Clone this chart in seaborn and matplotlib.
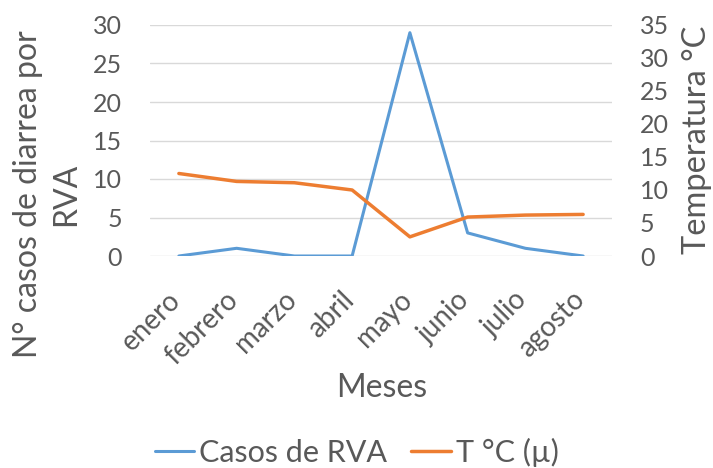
import matplotlib
matplotlib.use("Agg")
import matplotlib.pyplot as plt
import matplotlib.transforms as mtransforms
import seaborn as sns
import pandas as pd
from matplotlib.lines import Line2D

meses = ["enero", "febrero", "marzo", "abril", "mayo", "junio", "julio", "agosto"]
casos_rva = [0, 1, 0, 0, 29, 3, 1, 0]
temperatura = [12.5, 11.3, 11.1, 10.0, 2.9, 5.9, 6.2, 6.3]
left_ticks = [0, 5, 10, 15, 20, 25, 30]
right_ticks = [0, 5, 10, 15, 20, 25, 30, 35]

BLUE = "#5B9BD5"
ORANGE = "#ED7D31"
GREY = "#595959"
GRID = "#D9D9D9"

sns.set_theme(style="white")
plt.rcParams["font.family"] = ["Lato", "DejaVu Sans"]

df = pd.DataFrame({"mes": meses, "casos": casos_rva, "temp": temperatura})

fig = plt.figure(figsize=(7.13, 4.68), dpi=100)
ax = fig.add_axes([150 / 713, 1 - 256 / 468, (612 - 150) / 713, (256 - 25) / 468])
ax2 = ax.twinx()

sns.lineplot(data=df, x="mes", y="casos", ax=ax, color=BLUE, linewidth=2.2, sort=False)
sns.lineplot(data=df, x="mes", y="temp", ax=ax2, color=ORANGE, linewidth=2.5, sort=False)

ax.set_xlim(-0.5, len(meses) - 0.5)
ax.set_ylim(0, 30)
ax2.set_ylim(0, 35)
ax.set_yticks(left_ticks)
ax2.set_yticks(right_ticks)
ax.yaxis.grid(True, color=GRID, linewidth=1)
ax.set_axisbelow(True)
ax2.grid(False)

for a in (ax, ax2):
    for s in a.spines.values():
        s.set_visible(False)

ax.tick_params(axis="y", length=0, pad=20, labelsize=18, labelcolor=GREY)
ax2.tick_params(axis="y", length=0, pad=20, labelsize=18, labelcolor=GREY)
ax.tick_params(axis="x", length=0, pad=22, labelsize=20, labelcolor=GREY)
ax.set_xticks(range(len(meses)))
ax.set_xticklabels(meses, rotation=45, ha="right")
offset = mtransforms.ScaledTranslation(7 / 100, 0, fig.dpi_scale_trans)
for lbl in ax.get_xticklabels():
    lbl.set_transform(lbl.get_transform() + offset)

ax.set_xlabel("")
ax.set_ylabel("")
ax2.set_ylabel("")

fig.text(47 / 713, 1 - 194 / 468, "N° casos de diarrea por\nRVA", rotation=90,
         ha="center", va="center", fontsize=23, color=GREY, linespacing=1.35,
         multialignment="center")
fig.text(697 / 713, 1 - 140 / 468, "Temperatura °C", rotation=90,
         ha="center", va="center", fontsize=23.5, color=GREY)
fig.text(382 / 713, 1 - 388 / 468, "Meses", ha="center", va="center",
         fontsize=23, color=GREY)

handles = [Line2D([0], [0], color=BLUE, linewidth=2.2),
           Line2D([0], [0], color=ORANGE, linewidth=2.5)]
fig.legend(handles, ["Casos de RVA", "T °C (µ)"], loc="center",
           bbox_to_anchor=(0.5, 1 - 452 / 468), ncol=2, frameon=False,
           fontsize=22, labelcolor=GREY, handlelength=1.3, handletextpad=0.15,
           columnspacing=0.8, borderaxespad=0)

fig.savefig("out.png", dpi=100)
